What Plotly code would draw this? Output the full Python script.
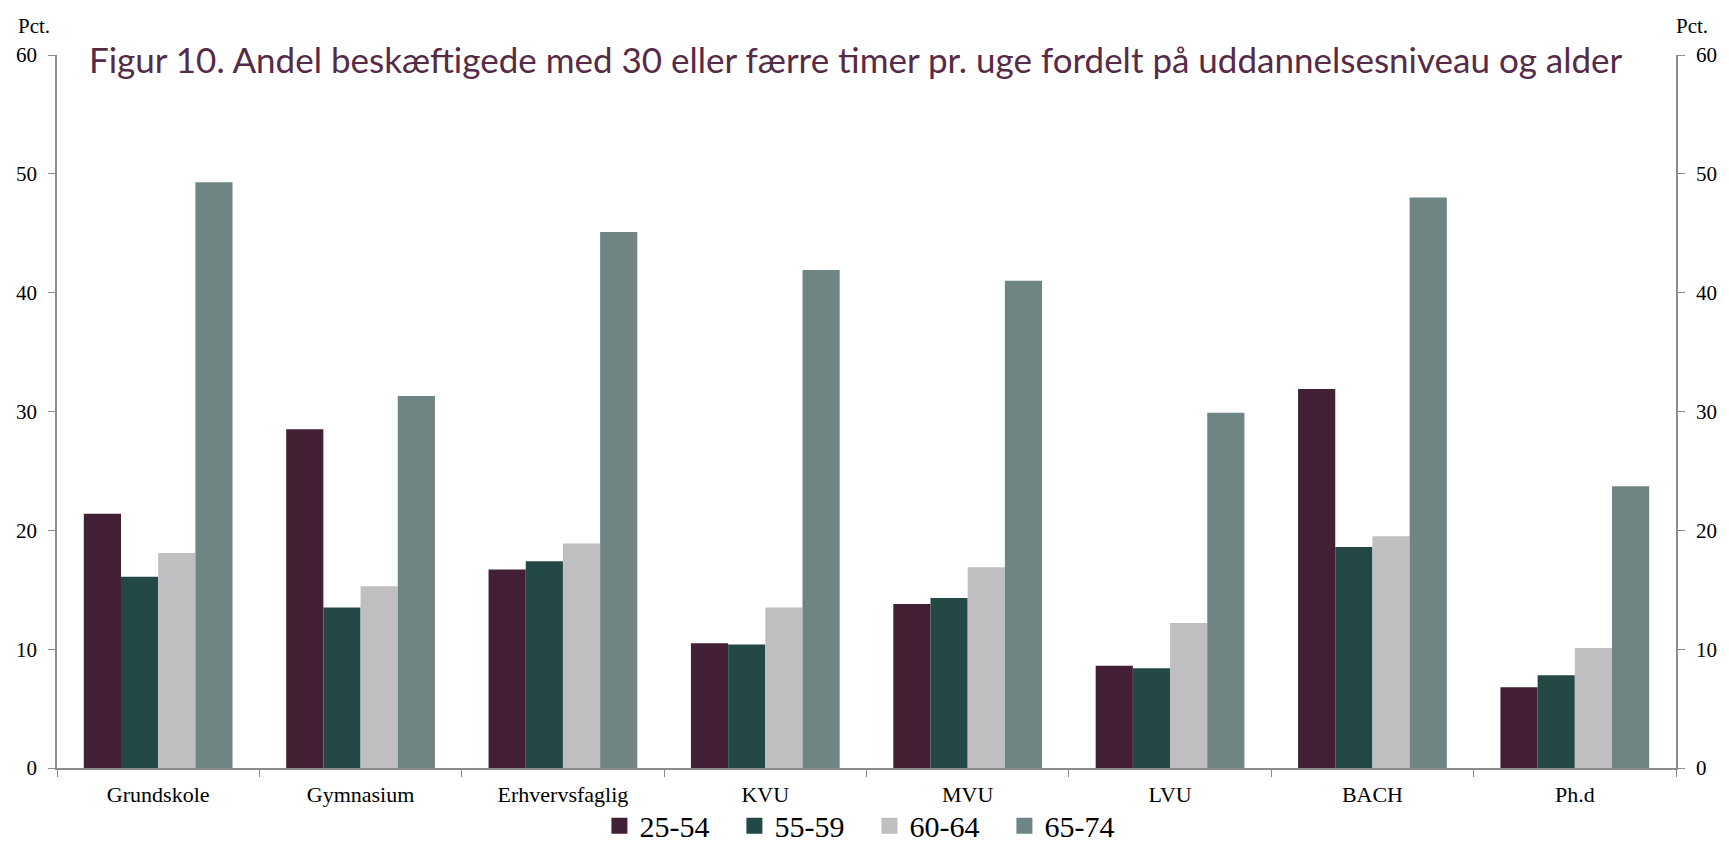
import plotly.graph_objects as go

categories = ["Grundskole", "Gymnasium", "Erhvervsfaglig", "KVU", "MVU", "LVU", "BACH", "Ph.d"]
series_names = ["25-54", "55-59", "60-64", "65-74"]
v_25_54 = [21.4, 28.5, 16.7, 10.5, 13.8, 8.6, 31.9, 6.8]
v_55_59 = [16.1, 13.5, 17.4, 10.4, 14.3, 8.4, 18.6, 7.8]
v_60_64 = [18.1, 15.3, 18.9, 13.5, 16.9, 12.2, 19.5, 10.1]
v_65_74 = [49.3, 31.3, 45.1, 41.9, 41.0, 29.9, 48.0, 23.7]
y_ticks = [0, 10, 20, 30, 40, 50, 60]

colors = ["#421f35", "#234846", "#bfbfc1", "#6f8583"]
series_values = [v_25_54, v_55_59, v_60_64, v_65_74]

title_text = "Figur 10. Andel beskæftigede med 30 eller færre timer pr. uge fordelt på uddannelsesniveau og alder"

fig = go.Figure()
for name, vals, col in zip(series_names, series_values, colors):
    fig.add_trace(go.Bar(x=categories, y=vals, name=name, marker=dict(color=col, line=dict(width=0)),
                         showlegend=False, hoverinfo="x+y+name"))
# legend entries with larger square symbols
for name, col in zip(series_names, colors):
    fig.add_trace(go.Scatter(x=[None], y=[None], mode="markers", name=name,
                             marker=dict(symbol="square", size=18, color=col), showlegend=True))
# invisible trace to activate right axis
fig.add_trace(go.Scatter(x=categories, y=v_65_74, yaxis="y2", mode="markers",
                         marker=dict(opacity=0), showlegend=False, hoverinfo="skip"))

axis_col = "#8c8c8c"
ytick_font = dict(family="Liberation Serif", size=21, color="#000000")
xtick_font = dict(family="Liberation Serif", size=22, color="#000000")

fig.update_layout(
    width=1729, height=880,
    margin=dict(l=57, r=44, t=55, b=112),
    paper_bgcolor="white", plot_bgcolor="white",
    barmode="group", bargap=0.265, bargroupgap=0,
    xaxis=dict(type="category", tickson="boundaries", ticks="outside", ticklen=7, tickcolor=axis_col,
               showline=True, linecolor=axis_col, linewidth=1.5, showgrid=False,
               tickfont=xtick_font, ticklabelstandoff=6),
    yaxis=dict(range=[0, 60], tickvals=y_ticks, ticks="outside", ticklen=7, tickcolor=axis_col,
               showline=True, linecolor=axis_col, linewidth=1.5, showgrid=False, zeroline=False,
               tickfont=ytick_font, ticklabelstandoff=7),
    yaxis2=dict(range=[0, 60], tickvals=y_ticks, overlaying="y", side="right", ticks="outside", ticklen=7,
                tickcolor=axis_col, showline=True, linecolor=axis_col, linewidth=1.5, showgrid=False,
                zeroline=False, tickfont=ytick_font, ticklabelstandoff=7),
    legend=dict(orientation="h", x=0.5018, xanchor="center", y=-0.081, yanchor="middle",
                bgcolor="rgba(0,0,0,0)",
                font=dict(family="Liberation Serif", size=30, color="#000000"),
                itemsizing="trace", entrywidth=90, entrywidthmode="pixels", tracegroupgap=0),
    annotations=[
        dict(text=title_text, xref="paper", yref="paper", x=0.4933, y=0.9937, xanchor="center",
             yanchor="middle", showarrow=False, font=dict(family="Lato", size=35, color="#562b47")),
        dict(text="Pct.", xref="paper", yref="paper", x=-0.0144, y=1.0407, xanchor="center",
             yanchor="middle", showarrow=False, font=dict(family="Liberation Serif", size=21, color="#000000")),
        dict(text="Pct.", xref="paper", yref="paper", x=1.0101, y=1.0407, xanchor="center",
             yanchor="middle", showarrow=False, font=dict(family="Liberation Serif", size=21, color="#000000")),
    ],
)

fig.write_html("out.html", config={"displayModeBar": False}, post_script=(
    "document.body.style.margin='0';"
    "document.body.style.overflow='hidden';"
    "document.documentElement.style.overflow='hidden';"
))
